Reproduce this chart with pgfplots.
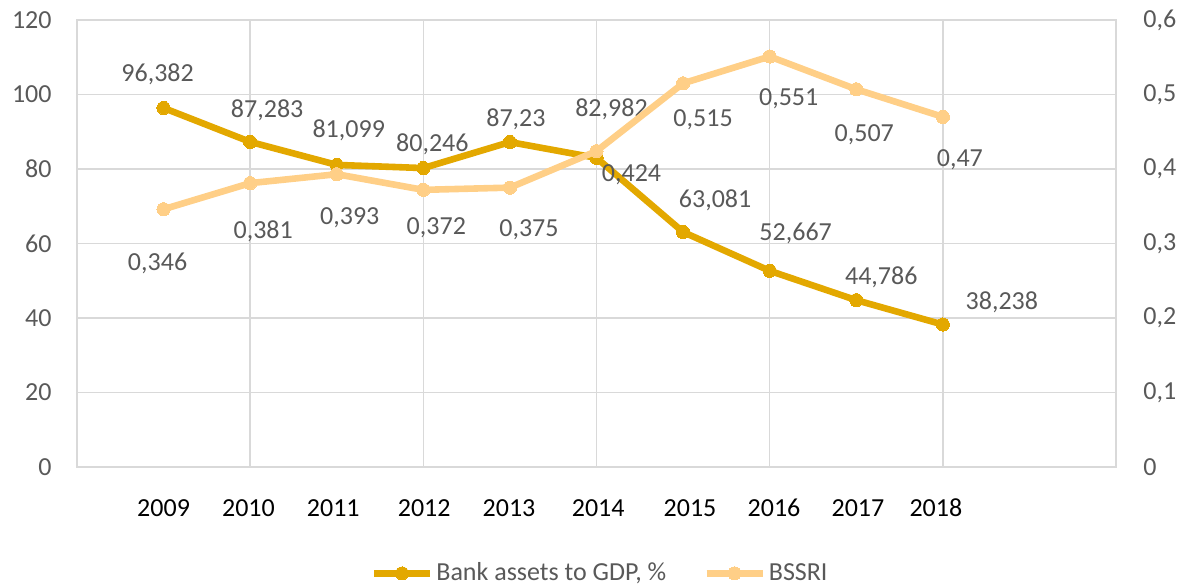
\documentclass[border=0pt]{standalone}
\usepackage{fontspec}
\setmainfont{Carlito}
\usepackage{pgfplots}
\usepackage{pgfplotstable}
\pgfplotsset{compat=1.18}
\definecolor{bankc}{HTML}{E3A800}
\definecolor{bssric}{HTML}{FFCF87}
\definecolor{gridc}{HTML}{D9D9D9}
\definecolor{txtc}{HTML}{595959}

\pgfplotstableread{
x y lab dx dy
2009 96.382 96,382 -3 17.5
2010 87.283 87,283 8.5 16.5
2011 81.099 81,099 6 18
2012 80.246 80,246 4.5 12.5
2013 87.23 87,23 3 12
2014 82.982 82,982 7.5 25
2015 63.081 63,081 16 16.5
2016 52.667 52,667 13 19.5
2017 44.786 44,786 12.5 12
2018 38.238 38,238 29.5 11.5
}\banktable

\pgfplotstableread{
x y lab dx dy
2009 0.346 0,346 -3 -26.5
2010 0.381 0,381 6.5 -23.5
2011 0.393 0,393 6.5 -21
2012 0.372 0,372 6.5 -18
2013 0.375 0,375 9.5 -20.5
2014 0.424 0,424 17.5 -11
2015 0.515 0,515 10 -17.5
2016 0.551 0,551 9.5 -20.5
2017 0.507 0,507 4 -22
2018 0.47 0,47 8.5 -20.5
}\bssritable

\pgfplotsset{
  base/.style={
    scale only axis, width=519.5pt, height=223.5pt,
    xmin=2008, xmax=2020,
    major tick length=0pt,
    /pgf/number format/assume math mode=true,
    tick label style={font=\fontsize{13}{15}\selectfont, text=txtc},
    axis line style={draw=gridc, line width=0.75pt},
    clip=false,
  },
  lbl/.style={
    point meta=explicit symbolic,
    nodes near coords,
    visualization depends on={\thisrow{dx} \as \dx},
    visualization depends on={\thisrow{dy} \as \dy},
    nodes near coords style={font=\fontsize{13}{15}\selectfont, text=txtc,
      anchor=center, inner sep=0pt, text height=8.2pt, text depth=0pt,
      xshift=\dx pt, yshift=\dy pt},
  },
  bankstyle/.style={draw=bankc, line width=3.3pt, mark=*, mark size=3.3pt,
    mark options={solid, fill=bankc, draw=bankc, line width=0pt}},
  bssristyle/.style={draw=bssric, line width=3.3pt, mark=*, mark size=3.3pt,
    mark options={solid, fill=bssric, draw=bssric, line width=0pt}},
}

\begin{document}
\begin{tikzpicture}
\begin{axis}[base,
  ymin=0, ymax=120, ytick={0,20,...,120},
  ymajorgrids, major grid style={draw=gridc, line width=0.75pt},
  yticklabel style={anchor=east, inner sep=0pt, xshift=-12.5pt},
  xtick={2009,2009.98,2010.96,2012.01,2012.99,2014.02,2015.08,2016.05,2017.02,2017.92},
  xticklabels={2009,2010,2011,2012,2013,2014,2015,2016,2017,2018},
  xticklabel style={anchor=center, inner sep=0pt, text height=8.2pt, text depth=0pt, yshift=-20.5pt, text=black},
  extra x ticks={2010,2012,2014,2016,2018},
  extra x tick labels={},
  extra x tick style={xmajorgrids=true, major grid style={draw=gridc, line width=0.75pt}},
]
\addplot[bankstyle, lbl] table[x=x, y=y, meta=lab] {\banktable};
\end{axis}
\begin{axis}[base,
  ymin=0, ymax=0.6, ytick={0,0.1,0.2,0.3,0.4,0.5,0.6},
  axis y line*=right, hide x axis,
  /pgf/number format/use comma,
  yticklabel style={anchor=west, inner sep=0pt, xshift=13.5pt},
  legend style={at={(0.504,-0.238)}, anchor=center, draw=none, fill=none,
    legend columns=2, font=\fontsize{13}{15}\selectfont, text=txtc,
    /tikz/every even column/.append style={column sep=17pt},
    nodes={inner sep=1.5pt}},
  legend cell align=left,
  legend image code/.code={\draw[mark repeat=2, mark phase=2, #1] plot coordinates {(0pt,0pt) (14pt,0pt) (28pt,0pt)};},
]
\addlegendimage{bankstyle}
\addlegendentry{Bank assets to GDP, \%}
\addplot[bssristyle, lbl] table[x=x, y=y, meta=lab] {\bssritable};
\addlegendentry{BSSRI}
\end{axis}
\pgfresetboundingbox
\path (-38.5pt,-60.5pt) rectangle (553pt,233.5pt);
\end{tikzpicture}
\end{document}
